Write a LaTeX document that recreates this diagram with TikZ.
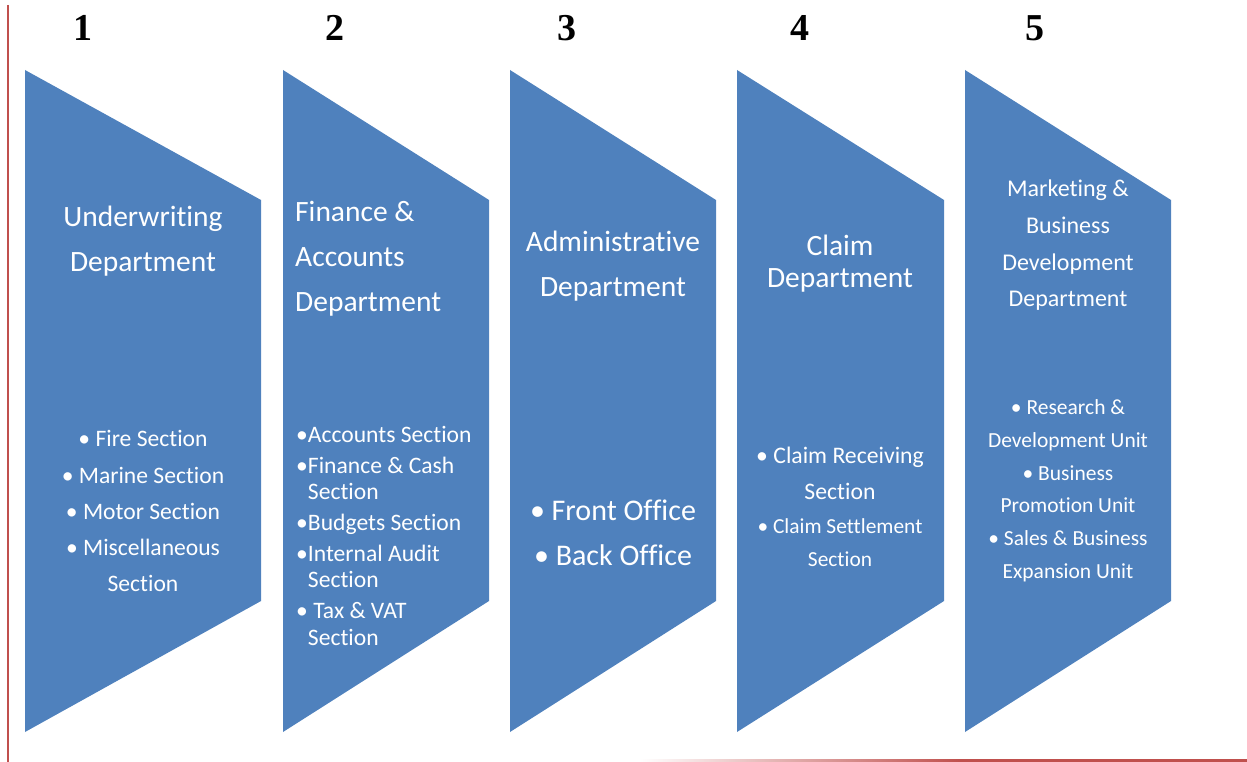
\documentclass[tikz,border=0pt]{standalone}
\usepackage{fontspec}
\setmainfont[Ligatures=NoCommon]{Carlito}
\newfontfamily\numfont{Liberation Serif}
\definecolor{dept_blue}{RGB}{79,129,189}
\definecolor{edge_red}{RGB}{192,80,77}
\tikzstyle{dept}=[fill=dept_blue]
\tikzstyle{num}=[font=\numfont\bfseries\fontsize{38}{38}\selectfont,
  anchor=base,inner sep=0pt]
\tikzstyle{title}=[text=white,align=center,anchor=base,inner sep=0pt,
  font=\fontsize{29.5}{45}\selectfont]
\tikzstyle{items}=[text=white,align=center,anchor=base,inner sep=0pt,
  font=\fontsize{23.6}{36.2}\selectfont]

\begin{document}
\begin{tikzpicture}[x=1pt,y=-1pt]
        \useasboundingbox (0,0) rectangle (1247,762);
        % page rules
        \draw[edge_red,line width=1.5pt] (8,5) -- (8,762);
        \shade[left color=white,right color=edge_red] (640,759) rectangle (960,761.5);
        \fill[edge_red] (960,759) rectangle (1247,761.5);
        % department shapes
        \fill[dept] (25,70) -- (261,200) -- (261,601) -- (25,732) -- cycle;
        \fill[dept] (283,70) -- (489,200) -- (489,601) -- (283,732) -- cycle;
        \fill[dept] (510,70) -- (716,200) -- (716,601) -- (510,732) -- cycle;
        \fill[dept] (737,70) -- (944,200) -- (944,601) -- (737,732) -- cycle;
        \fill[dept] (965,70) -- (1171,200) -- (1171,601) -- (965,732) -- cycle;
        % step numbers
        \node[num] (n1) at (83,41) {1};
        \node[num] (n2) at (335,41) {2};
        \node[num] (n3) at (567,41) {3};
        \node[num] (n4) at (800,41) {4};
        \node[num] (n5) at (1035,41) {5};
        % department names (base = last line)
        \node[title] (t1) at (143,271.7) {Underwriting\\Department};
        \node[title,align=left,anchor=base west] (t2) at (295,311.7)
          {Finance \&\\Accounts\\Department};
        \node[title] (t3) at (613,296.7) {Administrative\\Department};
        \node[title,font=\fontsize{29.5}{32}\selectfont] (t4) at (840,287)
          {Claim\\Department};
        \node[title,font=\fontsize{24}{36.7}\selectfont] (t5) at (1068,306.7)
          {Marketing \&\\Business\\Development\\Department};
        % sections
        \node[items] (s1) at (143,591.7)
          {• Fire Section\\• Marine Section\\• Motor Section\\• Miscellaneous\\Section};
        \node[items,align=left,anchor=base west,font=\fontsize{23.6}{26.5}\selectfont] (s2) at (296,645)
          {•Accounts Section\\[4.2pt]•Finance \& Cash\\\phantom{•}Section\\[4.2pt]•Budgets Section\\[4.2pt]%
           •Internal Audit\\\phantom{•}Section\\[4.2pt]• Tax \& VAT\\\phantom{•}Section};
        \node[items,font=\fontsize{30}{45}\selectfont] (s3) at (613,565.7)
          {• Front Office\\• Back Office};
        \node[items,font=\fontsize{23.7}{36}\selectfont] (s4) at (840,566.7)
          {• Claim Receiving\\Section\\[-2pt]{\fontsize{21.4}{33.7}\selectfont • Claim Settlement}\\[-2.3pt]{\fontsize{21.4}{33.7}\selectfont Section}};
        \node[items,font=\fontsize{21.5}{32.7}\selectfont] (s5) at (1068,578.3)
          {• Research \&\\Development Unit\\• Business\\Promotion Unit\\• Sales \& Business\\Expansion Unit};
    \end{tikzpicture}
\end{document}
